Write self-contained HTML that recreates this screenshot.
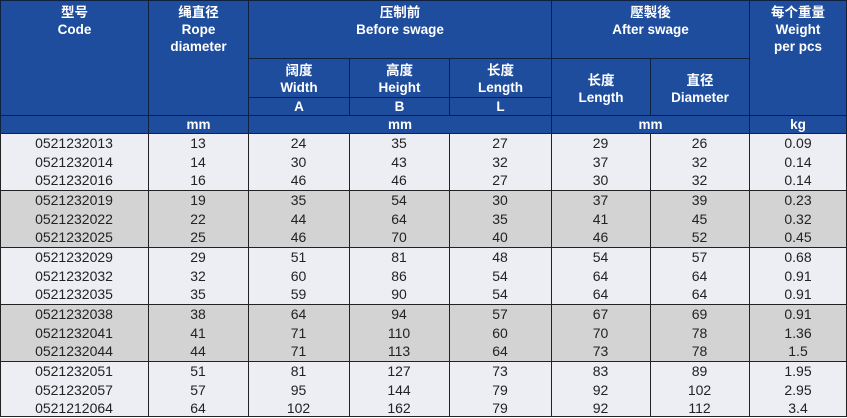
<!DOCTYPE html>
<html><head><meta charset="utf-8"><style>
body{margin:0;width:847px;height:417px;overflow:hidden;background:#fff;font-family:"Liberation Sans","Noto Sans CJK SC",sans-serif;}
.a{position:absolute;box-sizing:border-box;}
.h{background:#1f4d9d;color:#fff;font-weight:bold;font-size:13.5px;text-align:center;line-height:17px;border:1px solid #10213f;}
.g{border:1px solid #222;}
.c{position:absolute;text-align:center;font-size:14px;color:#222;line-height:19px;}
</style></head><body>
<div id="t"></div>
<script>
var X=[0,148,248,349,449,551,650,749,847];
var o='';
function box(x1,y1,x2,y2,cls,html,pt){o+='<div class="a '+cls+'" style="left:'+x1+'px;top:'+y1+'px;width:'+(x2-x1+1)+'px;height:'+(y2-y1+1)+'px;padding-top:'+(pt||0)+'px">'+(html||'')+'</div>';}
// header
box(0,0,148,115,'h','型号<br>Code',3);
box(148,0,248,115,'h','绳直径<br>Rope<br>diameter',3);
box(248,0,551,58,'h','压制前<br>Before swage',3);
box(551,0,749,58,'h','壓製後<br>After swage',3);
box(749,0,846,115,'h','每个重量<br>Weight<br>per pcs',3);
var sub=[['阔度','Width','A'],['高度','Height','B'],['长度','Length','L']];
for(var i=0;i<3;i++){box(X[2+i],58,X[3+i],97,'h',sub[i][0]+'<br>'+sub[i][1],3);box(X[2+i],97,X[3+i],115,'h',sub[i][2],0);}
box(551,58,650,115,'h','长度<br>Length',13);
box(650,58,749,115,'h','直径<br>Diameter',13);
box(0,115,148,133,'h','',0);
box(148,115,248,133,'h','mm',0);
box(248,115,551,133,'h','mm',0);
box(551,115,749,133,'h','mm',0);
box(749,115,846,133,'h','kg',0);
var d=[
['0521232013',13,24,35,27,29,26,'0.09'],
['0521232014',14,30,43,32,37,32,'0.14'],
['0521232016',16,46,46,27,30,32,'0.14'],
['0521232019',19,35,54,30,37,39,'0.23'],
['0521232022',22,44,64,35,41,45,'0.32'],
['0521232025',25,46,70,40,46,52,'0.45'],
['0521232029',29,51,81,48,54,57,'0.68'],
['0521232032',32,60,86,54,64,64,'0.91'],
['0521232035',35,59,90,54,64,64,'0.91'],
['0521232038',38,64,94,57,67,69,'0.91'],
['0521232041',41,71,110,60,70,78,'1.36'],
['0521232044',44,71,113,64,73,78,'1.5'],
['0521232051',51,81,127,73,83,89,'1.95'],
['0521232057',57,95,144,79,92,102,'2.95'],
['0521212064',64,102,162,79,92,112,'3.4']];
var G=[133,190,247,304,361,416];
for(var g=0;g<5;g++){
 var bg=g%2?'#d3d3d3':'#eceef4';
 for(var c=0;c<8;c++){o+='<div class="a g" style="left:'+X[c]+'px;top:'+G[g]+'px;width:'+(X[c+1]-X[c]+(c==7?0:1))+'px;height:'+(G[g+1]-G[g]+1)+'px;background:'+bg+'"></div>';}
 for(var r=0;r<3;r++){var row=d[g*3+r];var y=G[g]+1+r*18.7;
  for(var c=0;c<8;c++){o+='<div class="c" style="left:'+X[c]+'px;width:'+(X[c+1]-X[c])+'px;top:'+y+'px">'+row[c]+'</div>';}}
}
document.getElementById('t').innerHTML=o;
</script>
</body></html>
